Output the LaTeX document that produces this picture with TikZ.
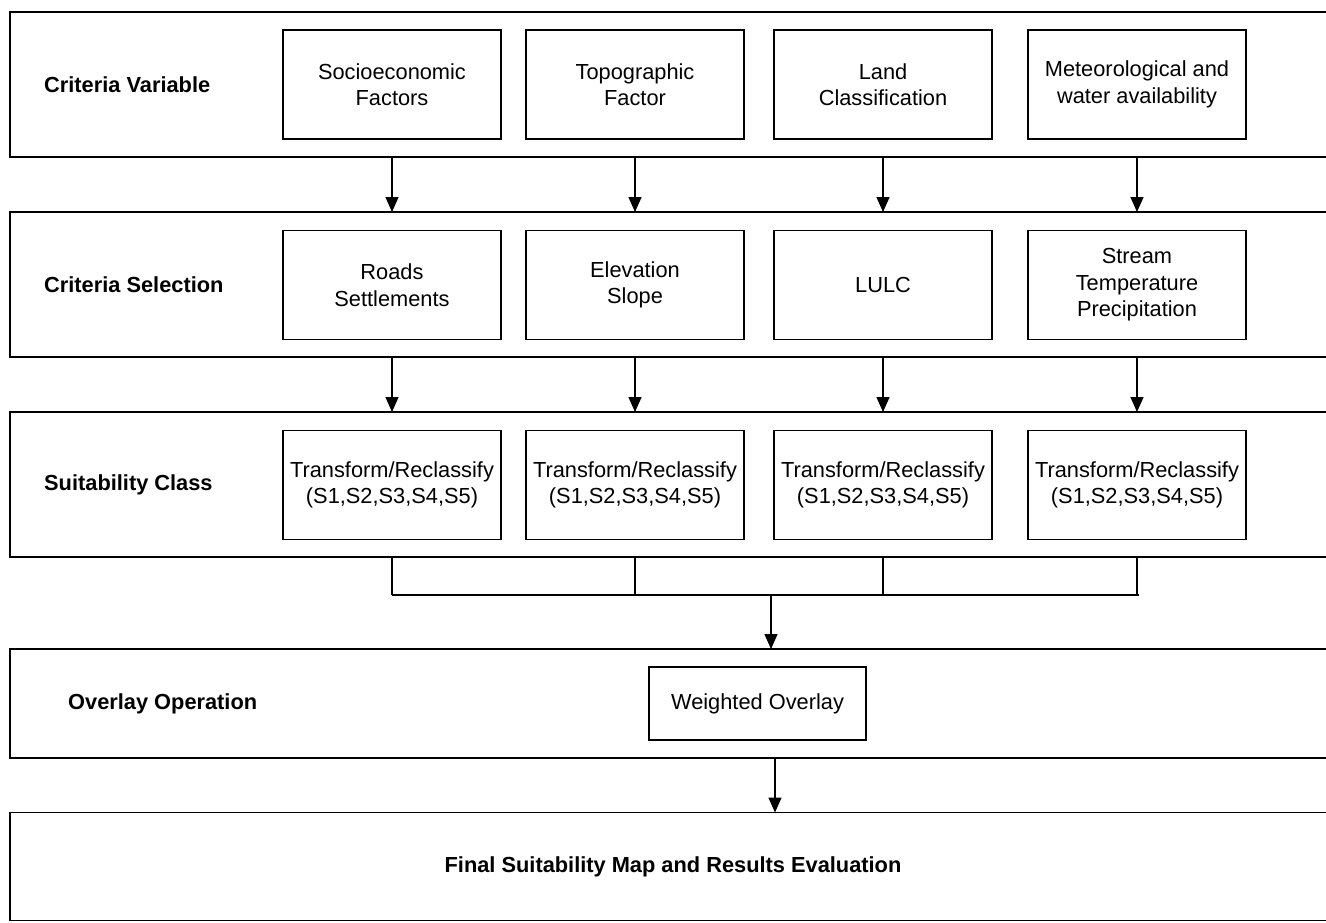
\documentclass[tikz,border=0pt]{standalone}
\usepackage{fontspec}
\setmainfont{Liberation Sans}
\usepackage{tikz}
\usetikzlibrary{arrows.meta}
\tikzset{band/.style={draw=black, line width=1.5pt, minimum width=1330pt, inner sep=0pt, outer sep=0pt},
box/.style={draw=black, line width=1.5pt, minimum width=218pt, minimum height=109pt, inner sep=2pt, outer sep=0pt, align=center, font=\fontsize{21.8}{26.5}\selectfont},
%bold row names
rowname/.style={anchor=west, inner sep=0pt, font=\fontsize{21.8}{26.5}\selectfont\bfseries},
flow/.style={line width=1.5pt, -{Triangle[length=15pt,width=13pt,fill=black]}},
bus/.style={line width=1.5pt}}

\begin{document}
\begin{tikzpicture}[x=1pt,y=-1pt]
		\useasboundingbox (0,0) rectangle (1326,922);
		\begin{scope}
		\clip (0,0) rectangle (1326,922);

		% bands
		\node[band, minimum height=145pt] (band1) at (675,84.5) {};
		\node[band, minimum height=145pt] (band2) at (675,284.5) {};
		\node[band, minimum height=145pt] (band3) at (675,484.5) {};
		\node[band, minimum height=109pt] (band4) at (675,703.5) {};
		\node[band, minimum height=108pt] (band5) at (675,866.5) {};
		\end{scope}

		\node[rowname] (cv) at (44,84.5) {Criteria Variable};
		\node[rowname] (cs) at (44,284.5) {Criteria Selection};
		\node[rowname] (sc) at (44,484.5) {Suitability Class};
		\node[rowname] (oo) at (68,703.5) {Overlay Operation};
		\node[font=\fontsize{21.8}{26.5}\selectfont\bfseries, inner sep=0pt] (final) at (673,866.5) {Final Suitability Map and Results Evaluation};

		% criteria variable
		\node[box] (socio) at (392,84.5) {Socioeconomic\\Factors};
		\node[box] (topo) at (635,84.5) {Topographic\\Factor};
		\node[box] (land) at (883,84.5) {Land\\Classification};
		\node[box] (meteo) at (1137,84.5) {Meteorological and\\water availability};

		% criteria selection
		\node[box] (roads) at (392,285) {Roads\\Settlements};
		\node[box] (elev) at (635,285) {Elevation\\Slope};
		\node[box] (lulc) at (883,285) {LULC};
		\node[box] (stream) at (1137,285) {Stream\\Temperature\\Precipitation};

		% suitability class
		\node[box] (tr1) at (392,485) {Transform/Reclassify\\(S1,S2,S3,S4,S5)};
		\node[box] (tr2) at (635,485) {Transform/Reclassify\\(S1,S2,S3,S4,S5)};
		\node[box] (tr3) at (883,485) {Transform/Reclassify\\(S1,S2,S3,S4,S5)};
		\node[box] (tr4) at (1137,485) {Transform/Reclassify\\(S1,S2,S3,S4,S5)};

		\node[box, minimum width=217pt, minimum height=73pt] (wo) at (757.5,703.5) {Weighted Overlay};

		\coordinate (busl) at (392,595);
		\coordinate (busr) at (1139,595);
		\coordinate (bus) at (771,595);

		\draw[flow] (socio.south |- band1.south) -- (roads.north |- band2.north);
		\draw[flow] (topo.south |- band1.south) -- (elev.north |- band2.north);
		\draw[flow] (land.south |- band1.south) -- (lulc.north |- band2.north);
		\draw[flow] (meteo.south |- band1.south) -- (stream.north |- band2.north);

		\draw[flow] (roads.south |- band2.south) -- (tr1.north |- band3.north);
		\draw[flow] (elev.south |- band2.south) -- (tr2.north |- band3.north);
		\draw[flow] (lulc.south |- band2.south) -- (tr3.north |- band3.north);
		\draw[flow] (stream.south |- band2.south) -- (tr4.north |- band3.north);

		\draw[bus]
		(tr1.south |- band3.south) -- (tr1.south |- busl)
		(tr2.south |- band3.south) -- (tr2.south |- busl)
		(tr3.south |- band3.south) -- (tr3.south |- busl)
		(tr4.south |- band3.south) -- (tr4.south |- busl)
		(busl) -- (busr)
		;

		\draw[flow] (bus) -- (bus |- band4.north);
		\draw[flow] (775,0 |- band4.south) -- (775,0 |- band5.north);

	\end{tikzpicture}
\end{document}
